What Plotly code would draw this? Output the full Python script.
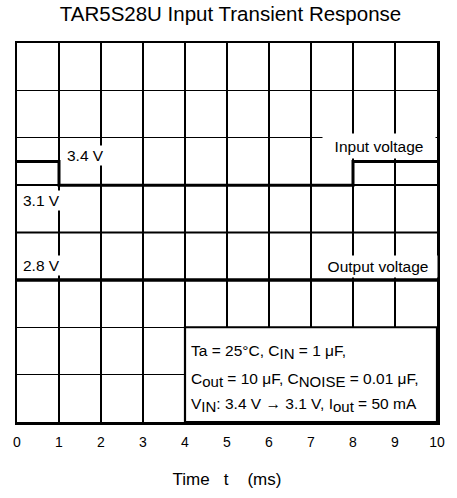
import plotly.graph_objects as go

# ---- data ----
input_time_ms = [0, 1, 1, 8, 8, 10]
input_voltage_v = [3.4, 3.4, 3.1, 3.1, 3.4, 3.4]
output_time_ms = [0, 10]
output_voltage_v = [2.8, 2.8]
x_tick_values = [0, 1, 2, 3, 4, 5, 6, 7, 8, 9, 10]
x_tick_labels = ["0", "1", "2", "3", "4", "5", "6", "7", "8", "9", "10"]

FONT = "Arial, Liberation Sans, sans-serif"
NB = "\u00a0"
W, H = 457, 498

fig = go.Figure()
fig.add_trace(go.Scatter(x=input_time_ms, y=input_voltage_v, mode="lines",
                         line=dict(color="black", width=3), yaxis="y",
                         hoverinfo="skip", showlegend=False))
fig.add_trace(go.Scatter(x=output_time_ms, y=output_voltage_v, mode="lines",
                         line=dict(color="black", width=3.5), yaxis="y2",
                         hoverinfo="skip", showlegend=False))

fig.update_layout(
    width=W, height=H,
    margin=dict(l=17, r=13, t=43, b=73),
    paper_bgcolor="white", plot_bgcolor="white",
    font=dict(family=FONT, color="black", size=14),
    title=dict(text="TAR5S28U Input Transient Response", x=(17 + 427 / 2) / W,
               xanchor="center", y=1 - 14 / H, yanchor="middle", yref="container",
               font=dict(size=20.5, family=FONT, color="black")),
    xaxis=dict(range=[0, 10], tickvals=x_tick_values, ticktext=x_tick_labels,
               showgrid=True, gridcolor="black", gridwidth=1.3,
               showline=True, linecolor="black", linewidth=2.5, mirror=True,
               ticks="", zeroline=False, ticklabelstandoff=6,
               tickfont=dict(size=14),
               title=dict(text=f"Time{NB*3}t{NB*4}(ms)", standoff=24,
                          font=dict(size=17))),
    yaxis=dict(range=[0.1, 4.9], tick0=0.1, dtick=0.6,
               showgrid=True, gridcolor="black", gridwidth=1.3,
               showline=True, linecolor="black", linewidth=2.5, mirror=True,
               showticklabels=False, ticks="", zeroline=False),
    yaxis2=dict(range=[2.5, 3.3], overlaying="y", visible=False),
)

# thicker centre line and the white condition box
fig.add_shape(type="line", xref="x", yref="y", x0=0, x1=10, y0=2.5, y1=2.5,
              line=dict(color="black", width=2.2))
fig.add_shape(type="rect", xref="x", yref="y", x0=4, x1=10, y0=0.1, y1=1.3,
              fillcolor="white", line=dict(color="black", width=2.2), layer="above")

def label(text, x, y, w=None, h=None, xanchor="center"):
    fig.add_annotation(text=text, x=x, y=y, xref="x", yref="y", showarrow=False,
                       xanchor=xanchor, yanchor="middle", bgcolor="white",
                       borderpad=1, width=w, height=h,
                       font=dict(size=15.5, family=FONT, color="black"))

label("3.4 V", 1.62, 3.47)
label("3.1 V", 0.58, 2.90)
label("2.8 V", 0.58, 2.08)
label("Input voltage", 8.62, 3.60, w=110, h=22)
label("Output voltage", 8.6, 2.075, w=116, h=19)

sub = lambda s: f"<sub><span style='font-size:15px'>{s}</span></sub>"
cond_lines = [
    (f"Ta = 25°C, C{sub('IN')} = 1 μF,", 0.99),
    (f"C{sub('out')} = 10 μF, C{sub('NOISE')} = 0.01 μF,", 0.63),
    (f"V{sub('IN')}: 3.4 V → 3.1 V, I{sub('out')} = 50 mA", 0.31),
]
for txt, yv in cond_lines:
    fig.add_annotation(text=txt, x=4.1, y=yv, xref="x", yref="y", showarrow=False,
                       xanchor="left", yanchor="middle",
                       font=dict(size=15.5, family=FONT, color="black"))

fig.write_html("out.html", config={"displayModeBar": False, "staticPlot": True},
               post_script="document.body.style.margin='0';document.body.style.overflow='hidden';")
